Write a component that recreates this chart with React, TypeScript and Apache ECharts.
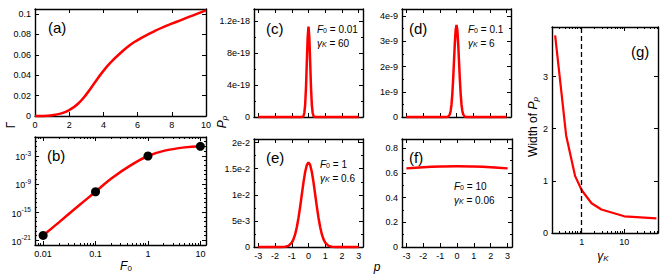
import React, { useEffect, useRef } from 'react';
import * as echarts from 'echarts';

// ---------- data ----------
// (a) Gamma vs F0 (linear)
const aF = [0, 0.5, 0.9, 1.5, 2, 2.5, 3, 3.5, 4, 4.5, 5, 5.5, 6, 6.5, 7, 7.5, 8, 8.5, 9, 9.5, 10];
const aGamma = [0, 0.0001, 0.0006, 0.0023, 0.0058, 0.0118, 0.0212, 0.0328, 0.0443, 0.0538, 0.0618, 0.069, 0.0745, 0.0792, 0.0834, 0.0872, 0.0906, 0.0939, 0.0972, 0.1004, 0.1036];
// (b) Gamma vs F0 (log-log)
const bF = [0.01, 0.02, 0.05, 0.1, 0.2, 0.5, 1, 2, 5, 10];
const bGamma = [1.1e-20, 6.6e-18, 3.7e-14, 2.2e-11, 1.5e-8, 1.5e-5, 9e-4, 1.1e-2, 6.2e-2, 1.035e-1];
const bPointF = [0.01, 0.1, 1, 10];
const bPointGamma = [1.1e-20, 2.2e-11, 9e-4, 1.035e-1];
// (c) P_p, F0 = 0.01
const cP = [-3, -1, -0.45, -0.35, -0.3, -0.25, -0.2, -0.15, -0.1, -0.05, 0, 0.05, 0.1, 0.15, 0.2, 0.25, 0.3, 0.35, 0.45, 1, 3];
const cVal = [0, 0, 0, 2.5e-21, 1.25e-20, 5e-20, 1.53e-19, 3.67e-19, 6.86e-19, 9.97e-19, 1.13e-18, 9.97e-19, 6.86e-19, 3.67e-19, 1.53e-19, 5e-20, 1.25e-20, 2.5e-21, 0, 0, 0];
// (d) P_p, F0 = 0.1
const dP = [-3, -1, -0.6, -0.5, -0.4, -0.35, -0.3, -0.25, -0.2, -0.15, -0.1, -0.05, 0, 0.05, 0.1, 0.15, 0.2, 0.25, 0.3, 0.35, 0.4, 0.5, 0.6, 1, 3];
const dVal = [0, 0, 1.2e-12, 1.4e-11, 1.04e-10, 2.4e-10, 4.9e-10, 9.1e-10, 1.5e-9, 2.21e-9, 2.92e-9, 3.45e-9, 3.65e-9, 3.45e-9, 2.92e-9, 2.21e-9, 1.5e-9, 9.1e-10, 4.9e-10, 2.4e-10, 1.04e-10, 1.4e-11, 1.2e-12, 0, 0];
// (e) P_p, F0 = 1
const eP = [-3, -2, -1.6, -1.4, -1.2, -1, -0.9, -0.8, -0.7, -0.6, -0.5, -0.4, -0.3, -0.2, -0.1, 0, 0.1, 0.2, 0.3, 0.4, 0.5, 0.6, 0.7, 0.8, 0.9, 1, 1.2, 1.4, 1.6, 2, 3];
const eVal = [0, 0, 6e-6, 4.8e-5, 2.2e-4, 8.3e-4, 1.45e-3, 2.41e-3, 3.77e-3, 5.55e-3, 7.7e-3, 1.006e-2, 1.239e-2, 1.438e-2, 1.573e-2, 1.62e-2, 1.573e-2, 1.438e-2, 1.239e-2, 1.006e-2, 7.7e-3, 5.55e-3, 3.77e-3, 2.41e-3, 1.45e-3, 8.3e-4, 2.2e-4, 4.8e-5, 6e-6, 0, 0];
// (f) P_p, F0 = 10
const fP = [-3, -2, -1, 0, 1, 2, 3];
const fVal = [0.637, 0.646, 0.652, 0.655, 0.652, 0.646, 0.637];
// (g) width of P_p vs gamma_K
const gGamma = [0.237, 0.3, 0.43, 0.7, 1.0, 1.7, 2.9, 10, 57];
const gWidth = [3.79, 3.03, 1.87, 1.09, 0.82, 0.57, 0.45, 0.32, 0.28];
const gDashAt = 1;

// panel annotations
const panelF0 = ['0.01', '0.1', '1', '10'];
const panelGammaK = ['60', '6', '0.6', '0.06'];

// ticks
const aXTicks = [0, 2, 4, 6, 8, 10];
const aYTicks = [0, 0.02, 0.04, 0.06, 0.08, 0.1];
const bXTicks = [0.01, 0.1, 1, 10];
const bXMinor = [0.008, 0.009, 0.02, 0.03, 0.04, 0.05, 0.06, 0.07, 0.08, 0.09, 0.2, 0.3, 0.4, 0.5, 0.6, 0.7, 0.8, 0.9, 2, 3, 4, 5, 6, 7, 8, 9];
const bYTicks = [1e-21, 1e-15, 1e-9, 1e-3];
const bYMinor = [1e-22, 1e-20, 1e-19, 1e-18, 1e-17, 1e-16, 1e-14, 1e-13, 1e-12, 1e-11, 1e-10, 1e-8, 1e-7, 1e-6, 1e-5, 1e-4, 1e-2, 1e-1, 1];
const pTicks = [-3, -2, -1, 0, 1, 2, 3];
const cYTicks = [0, 4e-19, 8e-19, 1.2e-18];
const cYMinor = [2e-19, 6e-19, 1e-18];
const dYTicks = [0, 1e-9, 2e-9, 3e-9, 4e-9];
const dYMinor = [5e-10, 1.5e-9, 2.5e-9, 3.5e-9];
const eYTicks = [0, 5e-3, 1e-2, 1.5e-2, 2e-2];
const eYMinor = [2.5e-3, 7.5e-3, 1.25e-2, 1.75e-2];
const fYTicks = [0, 0.2, 0.4, 0.6, 0.8];
const fYMinor = [0.1, 0.3, 0.5, 0.7];
const gXTicks = [1, 10];
const gXMinor = [0.2, 0.3, 0.4, 0.5, 0.6, 0.7, 0.8, 0.9, 2, 3, 4, 5, 6, 7, 8, 9, 20, 30, 40, 50, 60];
const gYTicks = [0, 1, 2, 3];

// ---------- styling ----------
const FONT = '"Liberation Sans", Arial, Helvetica, sans-serif';
const RED = '#ff0000';

interface AxSpec {
  type: 'value' | 'log';
  min: number;
  max: number;
  ticks: number[];
  minor?: number[];
  labels?: boolean;
  fmt?: (v: number) => string;
  rich?: any;
}

const expFmt = (v: number) => (v === 0 ? '0' : Number(v.toPrecision(6)).toExponential());
const supFmt = (v: number) => `{b|10}{s|${Math.round(Math.log10(v))}}`;

function makeAxis(grid: number, pos: string, s: AxSpec, values: number[], len: number, showLabel: boolean, showLine: boolean) {
  const ax: any = {
    type: s.type,
    gridIndex: grid,
    position: pos,
    min: s.min,
    max: s.max,
    axisLine: { show: showLine, onZero: false, lineStyle: { color: '#000', width: 1.4 } },
    axisTick: { show: true, inside: true, length: len, customValues: values, lineStyle: { color: '#000', width: 1 } },
    axisLabel: {
      show: showLabel,
      customValues: values,
      fontSize: 9,
      color: '#000',
      fontFamily: FONT,
      margin: 4,
      hideOverlap: false,
    },
    splitLine: { show: false },
    minorTick: { show: false },
    minorSplitLine: { show: false },
  };
  if (s.fmt) ax.axisLabel.formatter = s.fmt;
  if (s.rich) ax.axisLabel.rich = s.rich;
  if (s.type === 'log') ax.logBase = 10;
  return ax;
}

const zip = (xs: number[], ys: number[]) => xs.map((x, i) => [x, ys[i]]);

function buildOption() {
  const grid: any[] = [];
  const xAxis: any[] = [];
  const yAxis: any[] = [];
  function panel(box: [number, number, number, number], xs: AxSpec, ys: AxSpec) {
    const g = grid.length;
    grid.push({ left: box[0], top: box[1], width: box[2], height: box[3] });
    const xi = xAxis.length;
    xAxis.push(makeAxis(g, 'bottom', xs, xs.ticks, 4, xs.labels !== false, true));
    xAxis.push(makeAxis(g, 'top', xs, xs.ticks, 4, false, true));
    if (xs.minor) {
      xAxis.push(makeAxis(g, 'bottom', xs, xs.minor, 2, false, false));
      xAxis.push(makeAxis(g, 'top', xs, xs.minor, 2, false, false));
    }
    const yi = yAxis.length;
    yAxis.push(makeAxis(g, 'left', ys, ys.ticks, 4, ys.labels !== false, true));
    yAxis.push(makeAxis(g, 'right', ys, ys.ticks, 4, false, true));
    if (ys.minor) {
      yAxis.push(makeAxis(g, 'left', ys, ys.minor, 2, false, false));
      yAxis.push(makeAxis(g, 'right', ys, ys.minor, 2, false, false));
    }
    return { xAxisIndex: xi, yAxisIndex: yi };
  }

  const supRich = {
    b: { fontSize: 9, fontFamily: FONT, color: '#000', lineHeight: 12, verticalAlign: 'bottom' },
    s: { fontSize: 6.5, fontFamily: FONT, color: '#000', lineHeight: 12, verticalAlign: 'top' },
  };

  const pRange = { type: 'value' as const, min: -3.26, max: 3.26, ticks: pTicks };
  const pa = panel([35, 9, 171, 107], { type: 'value', min: 0, max: 10, ticks: aXTicks }, { type: 'value', min: 0, max: 0.105, ticks: aYTicks });
  const pb = panel([35, 137, 171, 108], { type: 'log', min: 0.007, max: 12.8, ticks: bXTicks, minor: bXMinor, fmt: (v) => String(v) }, { type: 'log', min: 1e-22, max: 10, ticks: bYTicks, minor: bYMinor, fmt: supFmt, rich: supRich });
  const pc = panel([254, 9, 109, 108], { ...pRange, labels: false }, { type: 'value', min: 0, max: 1.35e-18, ticks: cYTicks, minor: cYMinor, fmt: expFmt });
  const pd = panel([402, 9, 109, 108], { ...pRange, labels: false }, { type: 'value', min: 0, max: 4.28e-9, ticks: dYTicks, minor: dYMinor, fmt: expFmt });
  const pe = panel([254, 139, 109, 108], pRange, { type: 'value', min: 0, max: 2.07e-2, ticks: eYTicks, minor: eYMinor, fmt: expFmt });
  const pf = panel([402, 139, 110, 108], pRange, { type: 'value', min: 0, max: 0.875, ticks: fYTicks, minor: fYMinor });
  const pg = panel([552, 27, 106, 206], { type: 'log', min: 0.2, max: 62, ticks: gXTicks, minor: gXMinor, fmt: (v) => String(v) }, { type: 'value', min: 0, max: 3.95, ticks: gYTicks });

  const ls = { color: RED, width: 2.5 };
  const common = { type: 'line', showSymbol: false, symbol: 'none', clip: false, silent: true, lineStyle: ls };

  const series: any[] = [
    { ...common, ...pa, data: zip(aF, aGamma), smooth: 0.5 },
    { ...common, ...pb, data: zip(bF, bGamma), smooth: 0.4 },
    { type: 'scatter', ...pb, data: zip(bPointF, bPointGamma), symbol: 'circle', symbolSize: 9, itemStyle: { color: '#000', opacity: 1 }, silent: true, clip: false, z: 5 },
    { ...common, ...pc, data: zip(cP, cVal) },
    { ...common, ...pd, data: zip(dP, dVal) },
    { ...common, ...pe, data: zip(eP, eVal) },
    { ...common, ...pf, data: zip(fP, fVal), smooth: 0.4 },
    {
      ...common, ...pg, data: zip(gGamma, gWidth), lineStyle: { color: RED, width: 2.2 },
      markLine: {
        silent: true, symbol: 'none', label: { show: false },
        lineStyle: { color: '#000', type: [5, 3], width: 1.3 },
        data: [{ xAxis: gDashAt }],
      },
    },
  ];

  const annRich = {
    i: { fontSize: 10, fontStyle: 'italic', fontFamily: FONT, fill: '#000', lineHeight: 12, verticalAlign: 'bottom' },
    s: { fontSize: 7, fontFamily: FONT, fill: '#000', lineHeight: 8, verticalAlign: 'bottom' },
    si: { fontSize: 7, fontStyle: 'italic', fontFamily: FONT, fill: '#000', lineHeight: 8, verticalAlign: 'bottom' },
    n: { fontSize: 10, fontFamily: FONT, fill: '#000', lineHeight: 12, verticalAlign: 'bottom' },
  };
  const titleRich = {
    i: { fontSize: 12, fontStyle: 'italic', fontFamily: FONT, fill: '#000', lineHeight: 14, verticalAlign: 'bottom' },
    n: { fontSize: 12, fontFamily: FONT, fill: '#000', lineHeight: 14, verticalAlign: 'bottom' },
    s: { fontSize: 8, fontFamily: FONT, fill: '#000', lineHeight: 9, verticalAlign: 'bottom' },
    si: { fontSize: 8, fontStyle: 'italic', fontFamily: FONT, fill: '#000', lineHeight: 9, verticalAlign: 'bottom' },
  };

  const txt = (x: number, y: number, text: string, rich: any, extra: any = {}) => ({
    type: 'text', x, y, silent: true, ...extra,
    style: { text, rich, fill: '#000', align: extra.align || 'left', verticalAlign: 'middle', fontFamily: FONT },
  });
  const plabel = (x: number, y: number, t: string) => ({
    type: 'text', x, y, silent: true,
    style: { text: t, fill: '#000', fontSize: 15, fontFamily: FONT, align: 'left', verticalAlign: 'middle' },
  });

  const annPos: [number, number][] = [[317, 28], [468, 28], [320, 163], [454, 185]];
  const graphic: any[] = [
    plabel(48, 27, '(a)'),
    plabel(47, 155, '(b)'),
    plabel(266, 28, '(c)'),
    plabel(409, 28, '(d)'),
    plabel(266, 157, '(e)'),
    plabel(409, 157, '(f)'),
    plabel(631, 51, '(g)'),
  ];
  annPos.forEach(([x, y], k) => {
    graphic.push(txt(x, y, `{i|F}{s|0}{n| = ${panelF0[k]}}`, annRich));
    graphic.push(txt(x, y + 14, `{i|γ}{si|K}{n| = ${panelGammaK[k]}}`, annRich));
  });
  graphic.push(txt(10, 125, `{n|Γ}`, titleRich, { rotation: Math.PI / 2, align: 'center' }));
  graphic.push(txt(221, 122, `{i|P}{si|p}`, titleRich, { rotation: Math.PI / 2, align: 'center' }));
  graphic.push(txt(532, 127, `{n|Width of }{i|P}{si|p}`, titleRich, { rotation: Math.PI / 2, align: 'center' }));
  graphic.push(txt(126, 265, `{i|F}{s|0}`, titleRich, { align: 'center' }));
  graphic.push(txt(377, 266, `{i|p}`, titleRich, { align: 'center' }));
  graphic.push(txt(603, 255, `{i|γ}{si|K}`, titleRich, { align: 'center' }));

  return {
    animation: false,
    backgroundColor: '#fff',
    textStyle: { fontFamily: FONT },
    grid,
    xAxis,
    yAxis,
    series,
    graphic,
  };
}

export default function App() {
  const ref = useRef<HTMLDivElement>(null);
  useEffect(() => {
    const chart = echarts.init(ref.current!, null, { renderer: 'svg' });
    chart.setOption(buildOption() as any);
    return () => chart.dispose();
  }, []);
  return <div ref={ref} style={{ position: 'absolute', left: 0, top: 0, width: 664, height: 279 }} />;
}
